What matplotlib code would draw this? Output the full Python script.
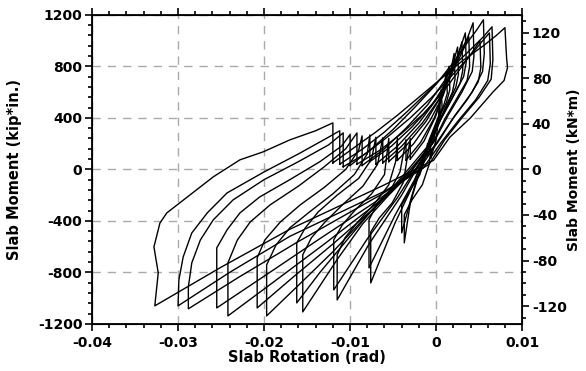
import matplotlib
matplotlib.use("Agg")
import matplotlib.pyplot as plt
from matplotlib.ticker import MultipleLocator

plt.rcParams['font.family'] = ['DejaVu Sans']
plt.rcParams['font.weight'] = 'bold'
plt.rcParams['axes.unicode_minus'] = False

# slab rotation (rad) / slab moment (kip*in.), one loop per cycle
rot_c1 = [-0.0120, -0.0095, -0.0070, -0.0045, -0.0020, 0.0005, 0.0030, 0.0055, 0.0070, 0.0080,
          0.0082, 0.0083, 0.0079, 0.0066, 0.0040, 0.0016, -0.0003, -0.0060, -0.0170, -0.0250,
          -0.0327, -0.0323, -0.0328, -0.0321, -0.0313, -0.0286, -0.0259, -0.0228, -0.0201,
          -0.0170, -0.0140, -0.0120, -0.0120]
mom_c1 = [50, 170, 290, 420, 560, 700, 840, 960, 1040, 1100,
          860, 790, 690, 600, 400, 250, 70, -120, -465, -760,
          -1060, -804, -602, -416, -338, -198, -58, 74, 136,
          229, 300, 361, 50]

rot_c2 = [-0.0112, -0.0085, -0.0060, -0.0035, -0.0010, 0.0015, 0.0040, 0.0055, 0.0065,
          0.0066, 0.0064, 0.0050, 0.0030, 0.0010, -0.0008, -0.0060, -0.0170, -0.0240,
          -0.0300, -0.0299, -0.0294, -0.0284, -0.0266, -0.0243, -0.0200, -0.0160, -0.0125,
          -0.0112, -0.0112]
mom_c2 = [40, 160, 290, 440, 600, 770, 930, 1030, 1107,
          850, 700, 560, 400, 230, 40, -170, -520, -800,
          -1060, -858, -680, -494, -338, -183, -20, 120, 250,
          300, 40]

rot_c3 = [-0.0108, -0.0080, -0.0055, -0.0030, -0.0005, 0.0020, 0.0042, 0.0053, 0.0062,
          0.0063, 0.0060, 0.0046, 0.0026, 0.0006, -0.0015, -0.0065, -0.0160, -0.0230,
          -0.0288, -0.0288, -0.0284, -0.0274, -0.0259, -0.0236, -0.0200, -0.0160, -0.0125,
          -0.0108, -0.0108]
mom_c3 = [20, 130, 260, 400, 560, 740, 900, 990, 1060,
          820, 690, 540, 380, 210, 10, -200, -560, -840,
          -1083, -913, -726, -548, -392, -237, -80, 60, 190,
          283, 20]

rot_c4 = [-0.0100, -0.0075, -0.0050, -0.0025, 0.0000, 0.0020, 0.0038, 0.0048, 0.0055,
          0.0056, 0.0054, 0.0042, 0.0022, 0.0003, -0.0020, -0.0070, -0.0140, -0.0200,
          -0.0255, -0.0255, -0.0243, -0.0228, -0.0205, -0.0170, -0.0135, -0.0110,
          -0.0100, -0.0100]
mom_c4 = [30, 160, 310, 480, 660, 830, 1000, 1090, 1162,
          900, 760, 600, 420, 220, 0, -250, -560, -830,
          -1076, -610, -470, -338, -214, -80, 60, 180,
          270, 30]

rot_c5 = [-0.0092, -0.0065, -0.0040, -0.0015, 0.0008, 0.0028, 0.0042, 0.0051,
          0.0052, 0.0049, 0.0036, 0.0018, 0.0000, -0.0025, -0.0070, -0.0130, -0.0190,
          -0.0242, -0.0242, -0.0231, -0.0216, -0.0193, -0.0160, -0.0130, -0.0105,
          -0.0092, -0.0092]
mom_c5 = [40, 150, 280, 430, 600, 780, 910, 1000,
          790, 680, 540, 380, 200, -10, -270, -580, -880,
          -1138, -726, -548, -408, -276, -130, 20, 160,
          283, 40]

rot_c6 = [-0.0086, -0.0060, -0.0035, -0.0010, 0.0010, 0.0027, 0.0037, 0.0043,
          0.0044, 0.0042, 0.0030, 0.0014, -0.0002, -0.0030, -0.0070, -0.0120, -0.0165,
          -0.0208, -0.0208, -0.0199, -0.0181, -0.0158, -0.0130, -0.0105, -0.0090,
          -0.0086, -0.0086]
mom_c6 = [30, 160, 320, 500, 690, 890, 1030, 1138,
          880, 760, 600, 420, 220, -20, -290, -580, -830,
          -1076, -687, -548, -408, -276, -140, 0, 150,
          260, 30]

rot_c7 = [-0.0077, -0.0052, -0.0028, -0.0005, 0.0013, 0.0026, 0.0033, 0.0038,
          0.0039, 0.0036, 0.0024, 0.0010, -0.0004, -0.0035, -0.0075, -0.0120, -0.0160,
          -0.0197, -0.0197, -0.0186, -0.0170, -0.0147, -0.0120, -0.0095, -0.0080,
          -0.0077, -0.0077]
mom_c7 = [60, 180, 330, 500, 680, 850, 950, 1030,
          800, 690, 550, 390, 200, -40, -320, -640, -900,
          -1138, -742, -586, -454, -330, -190, -40, 120,
          268, 60]

rot_c8 = [-0.0070, -0.0045, -0.0020, 0.0000, 0.0016, 0.0027, 0.0034,
          0.0035, 0.0032, 0.0020, 0.0006, -0.0006, -0.0040, -0.0080, -0.0110, -0.0135,
          -0.0162, -0.0162, -0.0152, -0.0137, -0.0115, -0.0090, -0.0075,
          -0.0070, -0.0070]
mom_c8 = [40, 180, 360, 540, 730, 920, 1060,
          830, 720, 570, 400, 210, -60, -360, -600, -800,
          -1037, -571, -454, -330, -200, -70, 80,
          250, 40]

rot_c9 = [-0.0062, -0.0040, -0.0016, 0.0003, 0.0017, 0.0025, 0.0030,
          0.0031, 0.0028, 0.0017, 0.0004, -0.0008, -0.0030, -0.0055, -0.0085, -0.0115,
          -0.0155, -0.0155, -0.0145, -0.0129, -0.0108, -0.0085, -0.0068,
          -0.0062, -0.0062]
mom_c9 = [50, 180, 360, 540, 720, 860, 990,
          770, 670, 530, 370, 190, -30, -200, -420, -700,
          -1107, -664, -532, -408, -270, -130, 40,
          245, 50]

rot_c10 = [-0.0055, -0.0034, -0.0012, 0.0005, 0.0017, 0.0025,
           0.0026, 0.0023, 0.0013, 0.0002, -0.0010, -0.0045, -0.0080,
           -0.0119, -0.0119, -0.0109, -0.0094, -0.0075, -0.0060,
           -0.0055, -0.0055]
mom_c10 = [60, 190, 370, 560, 750, 950,
           740, 640, 500, 340, 150, -220, -540,
           -936, -548, -431, -315, -190, -40,
           240, 60]

rot_c11 = [-0.0045, -0.0026, -0.0007, 0.0008, 0.0016, 0.0021,
           0.0022, 0.0019, 0.0010, 0.0000, -0.0012, -0.0040, -0.0078,
           -0.0115, -0.0115, -0.0106, -0.0091, -0.0072, -0.0055, -0.0047,
           -0.0045, -0.0045]
mom_c11 = [70, 200, 380, 570, 730, 900,
           700, 600, 470, 320, 130, -200, -580,
           -1014, -664, -532, -408, -270, -120, 60,
           245, 70]

rot_c12 = [-0.0035, -0.0018, -0.0002, 0.0009, 0.0015,
           0.0016, 0.0012, 0.0003, -0.0006, -0.0015, -0.0025, -0.0048,
           -0.0078, -0.0078, -0.0069, -0.0053, -0.0042,
           -0.0035, -0.0035]
mom_c12 = [70, 210, 400, 600, 800,
           620, 520, 400, 250, 80, -80, -360,
           -765, -392, -276, -160, -20,
           230, 70]

rot_c13 = [-0.0030, -0.0014, 0.0000, 0.0008, 0.0012,
           0.0013, 0.0009, 0.0001, -0.0008, -0.0016, -0.0026, -0.0048,
           -0.0076, -0.0076, -0.0066, -0.0051, -0.0038,
           -0.0030, -0.0030]
mom_c13 = [80, 220, 420, 600, 760,
           590, 500, 380, 230, 60, -110, -420,
           -882, -486, -377, -260, -100,
           240, 80]

rot_c14 = [-0.0010, -0.0002, 0.0003, 0.0006,
           0.0007, 0.0003, -0.0004, -0.0012, -0.0020, -0.0028,
           -0.0040, -0.0040, -0.0030, -0.0019, -0.0012,
           -0.0010, -0.0010]
mom_c14 = [110, 250, 420, 620,
           470, 380, 260, 120, -30, -200,
           -493, -276, -160, -43, 100,
           200, 110]

rot_c15 = [-0.0006, 0.0000, 0.0003, 0.0004,
           0.0005, 0.0001, -0.0006, -0.0014, -0.0022, -0.0030,
           -0.0037, -0.0037, -0.0028, -0.0016, -0.0008,
           -0.0006, -0.0006]
mom_c15 = [90, 230, 400, 560,
           420, 330, 210, 80, -80, -260,
           -571, -353, -237, -120, 40,
           160, 90]

rotations = [rot_c1, rot_c2, rot_c3, rot_c4, rot_c5, rot_c6, rot_c7, rot_c8,
             rot_c9, rot_c10, rot_c11, rot_c12, rot_c13, rot_c14, rot_c15]
moments = [mom_c1, mom_c2, mom_c3, mom_c4, mom_c5, mom_c6, mom_c7, mom_c8,
           mom_c9, mom_c10, mom_c11, mom_c12, mom_c13, mom_c14, mom_c15]

KIPIN_PER_KNM = 8.8507

fig = plt.figure(figsize=(5.86, 3.71), dpi=100)
ax = fig.add_axes([0.157, 0.127, 0.734, 0.833])

for r, m in zip(rotations, moments):
    ax.plot(r, m, color="black", lw=1.0)

ax.set_xlim(-0.04, 0.01)
ax.set_ylim(-1200, 1200)
ax.xaxis.set_major_locator(MultipleLocator(0.01))
ax.xaxis.set_minor_locator(MultipleLocator(0.002))
ax.yaxis.set_major_locator(MultipleLocator(400))
ax.yaxis.set_minor_locator(MultipleLocator(80))
ax.set_xticks([-0.04, -0.03, -0.02, -0.01, 0, 0.01])
ax.set_xticklabels(["-0.04", "-0.03", "-0.02", "-0.01", "0", "0.01"])
ax.grid(True, which="major", color="#aaaaaa", linestyle=(0, (6, 5)), lw=1.0)
ax.tick_params(which="both", direction="out", top=True, width=1.2, labelsize=10)
ax.tick_params(which="major", length=5, pad=2)
ax.tick_params(axis="x", which="major", pad=4)
ax.tick_params(which="minor", length=3)
ax.set_xlabel("Slab Rotation (rad)", fontsize=10.5, fontweight="bold", labelpad=0)
ax.set_ylabel("Slab Moment (kip*in.)", fontsize=10.5, fontweight="bold")
ax.yaxis.set_label_coords(-0.163, 0.5)
for s in ax.spines.values():
    s.set_linewidth(1.3)

# right axis in kN*m
ax2 = ax.twinx()
ax2.set_ylim(-1200 / KIPIN_PER_KNM, 1200 / KIPIN_PER_KNM)
ax2.yaxis.set_major_locator(MultipleLocator(40))
ax2.yaxis.set_minor_locator(MultipleLocator(10))
ax2.tick_params(which="both", direction="out", width=1.2, labelsize=10)
ax2.tick_params(which="major", length=5, pad=2)
ax2.tick_params(which="minor", length=3)
ax2.set_ylabel("Slab Moment (kN*m)", fontsize=10, fontweight="bold")
ax2.yaxis.set_label_coords(1.105, 0.5)

fig.savefig("out.png", dpi=100)
